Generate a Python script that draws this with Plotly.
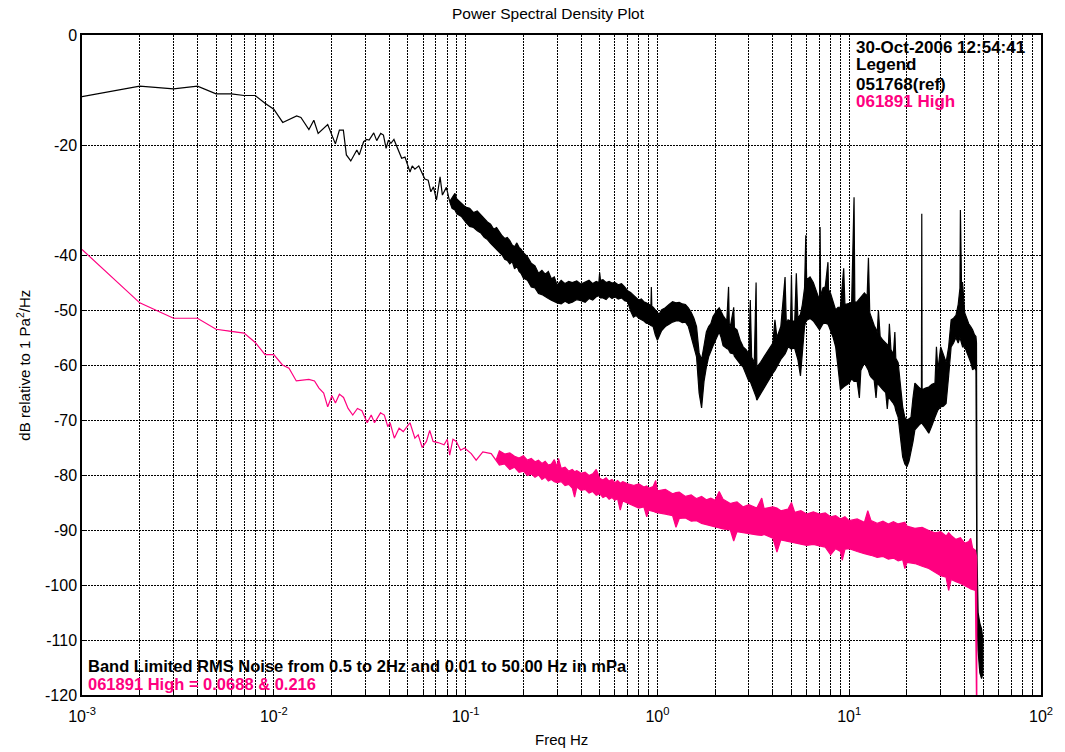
import plotly.graph_objects as go

# ---------------- data ----------------
# Reference (black) spectrum: clean low-frequency part
f_black_line = [0.001, 0.002, 0.003, 0.004, 0.005, 0.006, 0.007, 0.008, 0.009, 0.010,
                0.01113, 0.01316, 0.01385, 0.01524, 0.01617, 0.01703, 0.0191, 0.02095, 0.02198, 0.02305,
                0.0239, 0.0252, 0.0271, 0.0279, 0.0294, 0.0305, 0.0314, 0.0332, 0.0344, 0.0361,
                0.0373, 0.0385, 0.0396, 0.0408, 0.0423, 0.0442, 0.0464, 0.0483, 0.0513, 0.0527,
                0.0544, 0.057, 0.0613, 0.0638, 0.0659, 0.068, 0.0705, 0.0736, 0.0757, 0.0794, 0.0826]
db_black_line = [-11.2, -9.3, -9.8, -9.3, -10.7, -10.7, -11.0, -11.0, -12.4, -13.5,
                 -15.9, -14.7, -15.0, -17.2, -15.5, -17.9, -16.3, -19.8, -17.3, -17.3,
                 -21.8, -22.9, -20.9, -21.8, -19.4, -19.0, -19.1, -17.8, -19.2, -17.9,
                 -18.2, -20.6, -19.1, -19.7, -19.0, -20.6, -22.4, -22.2, -24.9, -23.8,
                 -24.4, -23.8, -26.2, -26.4, -28.5, -27.6, -30.0, -25.8, -29.1, -27.7, -30.3]

# Reference (black) spectrum: noisy part, upper and lower envelope of the trace
f_black_band = [0.085, 0.088, 0.09, 0.095, 0.1, 0.105, 0.11, 0.115, 0.12, 0.125,
                0.13, 0.135, 0.14, 0.145, 0.15, 0.155, 0.16, 0.165, 0.17, 0.175,
                0.18, 0.185, 0.19, 0.195, 0.2, 0.21, 0.22, 0.23, 0.24, 0.25,
                0.26, 0.27, 0.28, 0.29, 0.3, 0.315, 0.33, 0.345, 0.36, 0.38,
                0.4, 0.42, 0.44, 0.46, 0.48, 0.495, 0.5, 0.505, 0.52, 0.54,
                0.56, 0.58, 0.6, 0.625, 0.65, 0.675, 0.7, 0.725, 0.75, 0.775,
                0.8, 0.825, 0.85, 0.875, 0.9, 0.925, 0.93, 0.935, 0.95, 0.975,
                1.0, 1.02, 1.05, 1.1, 1.15, 1.2, 1.25, 1.3, 1.35, 1.4,
                1.45, 1.5, 1.55, 1.6, 1.65, 1.7, 1.75, 1.8, 1.85, 1.9,
                1.95, 2.0, 2.05, 2.1, 2.15, 2.2, 2.3, 2.35, 2.37, 2.4,
                2.5, 2.52, 2.6, 2.7, 2.8, 2.9, 3.0, 3.05, 3.1, 3.2,
                3.27, 3.3, 3.45, 3.6, 3.8, 4.0, 4.1, 4.2, 4.4, 4.63,
                4.7, 4.8, 4.95, 5.0, 5.05, 5.2, 5.3, 5.4, 5.57, 5.7,
                5.85, 5.94, 6.0, 6.25, 6.5, 6.75, 7.0, 7.05, 7.1, 7.3,
                7.5, 7.75, 7.8, 8.0, 8.25, 8.5, 8.75, 9.0, 9.36, 9.5,
                10.0, 10.3, 10.6, 10.7, 11.0, 11.3, 11.5, 12.0, 12.4, 12.6, 12.8,
                13.0, 13.5, 13.8, 14.0, 14.2, 14.5, 15.0, 15.5, 15.8, 16.0, 16.2, 16.5, 17.0, 17.3, 17.5,
                18.0, 18.5, 19.0, 19.5, 20.0, 20.5, 21.0, 21.5, 22.0, 23.0,
                23.8, 23.9, 24.0, 25.0, 26.0, 27.0, 28.0, 28.5, 29.0, 30.0,
                31.0, 32.0, 33.0, 34.0, 35.0, 36.0, 37.0, 37.8, 38.0, 38.5,
                39.0, 40.0, 41.0, 42.0, 43.0, 44.0, 45.0, 45.8, 46.1, 46.4,
                47.0, 48.0, 49.0, 49.8]
hi_black_band = [-29.6, -28.8, -29.8, -30.5, -31.3, -31.5, -32.3, -32.0, -32.7, -33.5,
                 -34.0, -34.4, -35.3, -35.0, -35.8, -36.5, -37.0, -36.8, -37.4, -38.2,
                 -38.5, -37.8, -38.6, -39.0, -39.6, -40.3, -41.5, -42.0, -43.3, -42.8,
                 -43.5, -43.0, -44.3, -44.0, -45.5, -44.6, -45.2, -44.8, -45.0, -44.7,
                 -45.3, -44.9, -44.6, -45.2, -44.8, -45.0, -43.2, -44.6, -44.5, -45.0,
                 -44.8, -45.1, -45.0, -45.4, -45.2, -45.8, -46.5, -46.8, -47.3, -47.6,
                 -48.2, -48.0, -48.5, -48.7, -49.0, -49.2, -45.8, -49.3, -49.5, -50.0,
                 -50.4, -50.8, -50.0, -49.6, -49.0, -48.5, -48.7, -48.6, -48.9, -49.0,
                 -49.6, -50.4, -51.5, -53.0, -57.8, -59.0, -56.5, -54.0, -53.0, -52.5,
                 -51.2, -50.5, -50.0, -49.6, -50.3, -51.0, -52.0, -45.8, -52.5, -53.0,
                 -49.5, -53.2, -53.6, -55.5, -56.7, -57.2, -58.0, -48.2, -58.6, -59.5,
                 -45.0, -60.4, -59.5, -58.5, -57.2, -56.0, -51.8, -55.0, -53.0, -44.0,
                 -52.5, -51.8, -52.0, -43.6, -52.0, -52.0, -43.3, -51.5, -50.8, -49.0,
                 -46.0, -36.4, -44.5, -44.0, -45.0, -46.5, -48.2, -34.9, -47.5, -46.0,
                 -45.8, -41.3, -46.3, -47.0, -48.5, -50.0, -49.5, -49.5, -42.4, -49.0,
                 -48.8, -48.6, -29.5, -48.6, -48.5, -48.0, -47.5, -46.9, -47.5, -40.5, -50.5,
                 -51.3, -52.8, -53.5, -54.2, -50.0, -54.8, -55.5, -56.0, -56.3, -56.7, -52.5, -57.2, -58.0, -54.0, -58.8,
                 -59.6, -63.5, -67.6, -69.5, -70.0, -69.8, -69.5, -66.0, -63.3, -64.0,
                 -64.5, -32.5, -64.5, -64.2, -64.0, -63.5, -63.3, -56.7, -60.9, -56.7,
                 -58.0, -59.5, -56.7, -51.8, -51.5, -51.0, -49.0, -46.0, -31.8, -45.0,
                 -45.0, -50.5, -51.5, -52.5, -53.0, -53.6, -54.5, -54.8, -56.0, -95.0,
                 -105.0, -107.0, -108.0, -110.0]
lo_black_band = [-31.5, -31.8, -32.5, -33.0, -34.0, -34.8, -35.0, -35.6, -36.0, -36.8,
                 -37.2, -37.9, -38.5, -39.0, -39.5, -40.0, -40.8, -41.0, -41.6, -41.2,
                 -42.5, -42.0, -43.0, -43.4, -44.2, -44.6, -45.8, -46.0, -47.0, -47.2,
                 -47.5, -47.9, -48.2, -48.5, -48.7, -48.9, -48.4, -48.8, -48.6, -48.1,
                 -48.3, -48.6, -47.9, -48.2, -47.6, -47.4, -47.5, -47.8, -47.8, -48.1,
                 -47.5, -47.9, -47.6, -48.0, -47.8, -48.3, -48.5, -50.2, -51.3, -51.0,
                 -51.5, -51.8, -52.0, -52.4, -52.5, -52.8, -52.8, -52.9, -53.0, -54.5,
                 -55.5, -55.0, -53.8, -53.0, -52.6, -52.2, -52.0, -52.0, -52.3, -52.2,
                 -53.0, -54.9, -56.5, -58.5, -65.1, -67.8, -63.0, -60.4, -58.5, -57.5,
                 -56.5, -55.5, -54.8, -54.0, -55.0, -56.5, -57.0, -57.2, -57.5, -57.8,
                 -58.0, -58.4, -59.1, -59.8, -60.4, -61.8, -63.0, -63.0, -63.8, -65.0,
                 -65.8, -66.4, -65.2, -64.0, -62.8, -61.5, -61.0, -60.5, -59.0, -58.0,
                 -57.5, -56.7, -57.0, -57.2, -57.0, -57.0, -58.0, -59.0, -62.0, -58.0,
                 -53.0, -52.0, -51.8, -51.5, -52.0, -52.8, -53.6, -53.6, -53.2, -52.5,
                 -52.4, -52.6, -52.8, -53.6, -55.0, -56.7, -60.5, -64.5, -64.0, -63.8,
                 -63.3, -62.5, -63.0, -63.0, -63.0, -66.0, -61.0, -59.6, -60.5, -61.0, -61.8,
                 -62.2, -62.8, -66.0, -63.3, -63.5, -63.8, -64.5, -65.0, -68.0, -65.8, -66.0, -66.3, -67.0, -67.5, -68.3,
                 -69.5, -73.0, -76.7, -78.0, -78.5, -77.5, -76.0, -74.0, -71.8, -71.0,
                 -70.5, -70.5, -70.5, -71.5, -72.4, -71.0, -69.5, -69.0, -68.2, -67.6,
                 -67.5, -67.0, -62.0, -56.7, -56.0, -55.0, -56.0, -55.0, -55.0, -56.0,
                 -56.7, -56.7, -57.5, -58.5, -59.5, -60.9, -60.5, -61.0, -92.0, -106.0,
                 -112.0, -116.0, -117.0, -116.0]

# Test (pink) spectrum: clean low-frequency part
f_pink_line = [0.001, 0.002, 0.003, 0.004, 0.005, 0.006, 0.007, 0.008, 0.009, 0.010,
               0.0111, 0.012, 0.0131, 0.01524, 0.0163, 0.0172, 0.0182, 0.0191, 0.0201, 0.02096,
               0.02198, 0.0231, 0.0244, 0.0258, 0.0273, 0.0288, 0.0307, 0.0322, 0.0335, 0.0349,
               0.036, 0.0377, 0.0393, 0.0404, 0.0425, 0.045, 0.0473, 0.0513, 0.0544, 0.0566,
               0.0594, 0.0625, 0.065, 0.0677, 0.0718, 0.0772, 0.0803, 0.0826, 0.0859, 0.0894,
               0.0942, 0.0988, 0.107, 0.1135, 0.123, 0.136, 0.144]
db_pink_line = [-39.0, -48.7, -51.5, -51.5, -53.5, -53.9, -54.2, -55.9, -58.1, -58.1,
                -60.0, -60.6, -62.9, -62.6, -62.9, -64.2, -65.1, -67.6, -65.6, -66.9,
                -65.3, -65.9, -67.9, -69.1, -67.9, -68.3, -70.5, -69.1, -70.5, -69.5,
                -68.7, -69.1, -71.2, -70.5, -73.3, -71.5, -72.1, -70.5, -73.3, -72.7,
                -75.0, -73.9, -71.9, -73.9, -74.1, -74.5, -73.5, -76.4, -73.5, -73.9,
                -75.5, -75.1, -76.1, -77.3, -75.8, -76.1, -77.3]

# Test (pink) spectrum: noisy part, upper and lower envelope
f_pink_band = [0.15, 0.16, 0.17, 0.18, 0.19, 0.2, 0.21, 0.22, 0.23, 0.24,
               0.25, 0.26, 0.27, 0.28, 0.29, 0.3, 0.305, 0.315, 0.33, 0.345,
               0.36, 0.37, 0.38, 0.4, 0.42, 0.44, 0.46, 0.48, 0.5, 0.52,
               0.54, 0.56, 0.58, 0.6, 0.62, 0.64, 0.66, 0.7, 0.75, 0.8,
               0.85, 0.88, 0.9, 0.95, 0.98, 1.0, 1.1, 1.2, 1.25, 1.3,
               1.4, 1.5, 1.6, 1.7, 1.8, 1.9, 2.0, 2.1, 2.2, 2.4,
               2.5, 2.6, 2.8, 3.0, 3.3, 3.5, 3.6, 4.0, 4.2, 4.4,
               4.8, 5.0, 5.2, 5.6, 6.0, 6.5, 7.0, 7.5, 8.0, 8.5,
               9.0, 9.2, 9.5, 10.0, 11.0, 12.0, 12.5, 13.0, 14.0, 15.0,
               16.0, 17.0, 18.0, 19.0, 19.5, 20.0, 22.0, 24.0, 26.0, 28.0,
               30.0, 32.0, 33.0, 34.0, 36.0, 38.0, 40.0, 42.0, 43.0, 44.0,
               45.5, 46.2, 46.3]
hi_pink_band = [-75.6, -76.2, -76.0, -76.6, -76.9, -76.5, -77.3, -77.0, -77.6, -77.3,
                -77.9, -77.5, -78.2, -78.0, -77.2, -78.5, -77.0, -78.8, -78.6, -79.3,
                -79.0, -79.4, -79.2, -79.7, -79.5, -80.1, -79.8, -79.0, -80.6, -80.9,
                -80.5, -81.1, -80.8, -81.4, -81.0, -81.5, -81.2, -81.6, -81.9, -81.6,
                -82.2, -82.0, -82.4, -82.1, -81.0, -82.9, -82.6, -83.4, -83.2, -83.1,
                -83.9, -83.6, -84.3, -83.9, -84.5, -84.2, -84.6, -83.0, -84.4, -85.2,
                -85.0, -84.9, -85.8, -85.4, -86.0, -84.2, -86.1, -85.8, -86.0, -86.5,
                -86.2, -85.0, -86.8, -86.5, -87.1, -86.7, -87.1, -86.9, -87.6, -87.4,
                -88.0, -87.8, -87.6, -88.3, -88.0, -88.6, -86.5, -88.3, -88.8, -88.4,
                -88.9, -88.5, -88.9, -88.7, -88.6, -89.3, -89.7, -89.5, -90.1, -90.5,
                -90.3, -91.1, -90.5, -91.0, -91.7, -91.4, -92.4, -92.1, -91.5, -93.3,
                -93.7, -95.0, -125.0]
lo_pink_band = [-78.2, -78.0, -79.0, -78.6, -79.5, -79.3, -80.1, -79.8, -80.4, -80.0,
                -80.8, -80.4, -81.1, -80.8, -81.2, -81.4, -81.3, -81.2, -81.9, -81.7,
                -82.4, -84.0, -82.2, -82.8, -82.6, -83.3, -83.0, -83.7, -83.4, -84.1,
                -83.8, -84.4, -84.1, -84.6, -84.3, -86.4, -84.7, -85.1, -85.6, -86.0,
                -85.8, -87.6, -86.4, -86.6, -86.8, -86.9, -87.1, -87.4, -89.5, -87.9,
                -87.8, -88.4, -88.3, -88.8, -89.0, -89.3, -89.5, -89.6, -89.8, -90.0,
                -92.0, -90.3, -90.5, -90.7, -90.9, -91.0, -90.8, -91.5, -94.0, -91.8,
                -92.1, -92.2, -92.4, -92.6, -92.8, -92.6, -92.9, -93.1, -94.5, -93.4,
                -93.9, -95.5, -93.5, -93.4, -93.9, -94.3, -94.4, -94.6, -95.0, -94.8,
                -95.3, -95.1, -95.6, -95.4, -97.0, -95.9, -96.1, -96.6, -97.0, -97.6,
                -98.3, -98.6, -101.0, -99.0, -99.4, -99.7, -100.1, -100.5, -100.7, -100.9,
                -101.0, -125.0, -125.0]

# Axis ticks
x_decades = [0.001, 0.01, 0.1, 1, 10, 100]
x_decade_labels = ["10<sup>-3</sup>", "10<sup>-2</sup>", "10<sup>-1</sup>",
                   "10<sup>0</sup>", "10<sup>1</sup>", "10<sup>2</sup>"]
x_mantissas = [1, 2, 3, 4, 5, 6, 7, 8, 9]
y_ticks = [0, -20, -40, -50, -60, -70, -80, -90, -100, -110, -120]

BLACK = "#000000"
PINK = "#FF0080"

for a, b in [(f_black_line, db_black_line), (f_black_band, hi_black_band),
             (f_black_band, lo_black_band), (f_pink_line, db_pink_line),
             (f_pink_band, hi_pink_band), (f_pink_band, lo_pink_band)]:
    assert len(a) == len(b), (len(a), len(b))


def outline(f_line, db_line, f_band, hi, lo):
    xs = f_line + f_band + f_band[::-1] + f_line[::-1]
    ys = db_line + hi + lo[::-1] + db_line[::-1]
    return xs, ys


fig = go.Figure()
for name, color, parts in [
    ("051768(ref)", BLACK, (f_black_line, db_black_line, f_black_band, hi_black_band, lo_black_band)),
    ("061891 High", PINK, (f_pink_line, db_pink_line, f_pink_band, hi_pink_band, lo_pink_band)),
]:
    xs, ys = outline(*parts)
    fig.add_trace(go.Scatter(x=xs, y=ys, mode="lines", name=name,
                             line=dict(color=color, width=1.2),
                             fill="toself", fillcolor=color, hoverinfo="skip"))

# tick positions / labels
x_tickvals, x_ticktext = [], []
for i, d in enumerate(x_decades):
    for m in x_mantissas:
        if d == 100 and m > 1:
            break
        x_tickvals.append(d * m)
        x_ticktext.append(x_decade_labels[i] if m == 1 else "")

FONT = "Arial, Liberation Sans, Helvetica, sans-serif"
grid = dict(showgrid=True, gridcolor="black", gridwidth=1, griddash="2px,1px",
            showline=True, linecolor="black", linewidth=1.5, mirror=True,
            ticks="inside", ticklen=5, tickcolor="black", zeroline=False,
            tickfont=dict(family=FONT, size=16, color="black"))

fig.update_xaxes(type="log", range=[-3, 2], tickmode="array",
                 tickvals=x_tickvals, ticktext=x_ticktext, ticklabelstandoff=6, **grid)
fig.update_yaxes(range=[-120, 0], tickmode="array", tickvals=y_ticks,
                 ticktext=[str(v) for v in y_ticks], **grid)

ann = []
def txt(x, y, s, color="black", bold=True, size=17, xanchor="left", textangle=0):
    ann.append(dict(x=x, y=y, xref="paper", yref="paper", text=s, showarrow=False,
                    xanchor=xanchor, yanchor="middle", textangle=textangle,
                    font=dict(family=FONT, size=size, color=color,
                              weight="bold" if bold else "normal")))

txt(0.8045, 0.9815, "30-Oct-2006 12:54:41")
txt(0.8045, 0.9555, "Legend")
txt(0.8045, 0.9245, "051768(ref)")
txt(0.8045, 0.8995, "061891 High", color=PINK)
txt(0.0045, 0.0435, "Band Limited RMS Noise from 0.5 to 2Hz and 0.01 to 50.00 Hz in mPa", size=16.5)
txt(0.0045, 0.0170, "061891 High = 0.0688 & 0.216", color=PINK, size=16.5)
txt(0.5, -0.068, "Freq Hz", bold=False, size=15, xanchor="center")
txt(-0.0619, 0.5, "dB relative to 1 Pa<sup>2</sup>/Hz", bold=False, size=15,
    xanchor="center", textangle=-90)

fig.update_layout(
    width=1065, height=752,
    margin=dict(l=82, r=18, t=35, b=57),
    paper_bgcolor="white", plot_bgcolor="white",
    showlegend=False,
    font=dict(family=FONT, size=15, color="black"),
    title=dict(text="Power Spectral Density Plot", x=548 / 1065, xanchor="center",
               xref="container", y=1 - 14 / 752, yanchor="middle", yref="container",
               font=dict(family=FONT, size=15.5, color="black")),
    annotations=ann,
)

fig.write_html("out.html")
